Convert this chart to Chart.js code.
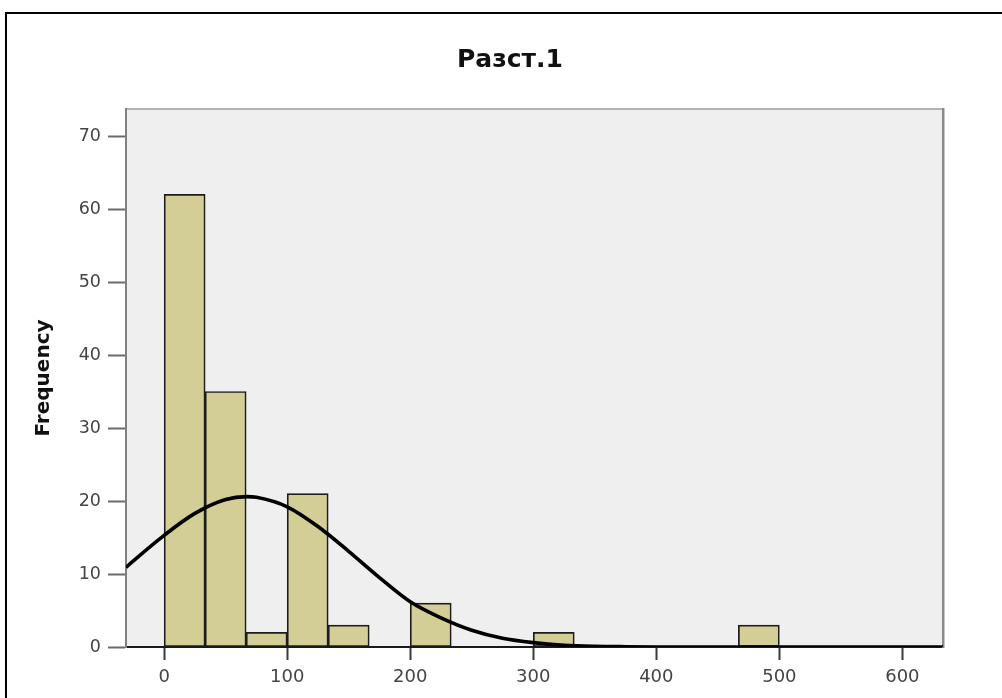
<!DOCTYPE html>
<html>
<head>
<meta charset="utf-8">
<title>Разст.1</title>
<script src="https://cdn.jsdelivr.net/npm/chart.js@4/dist/chart.umd.min.js"></script>
<style>
  html, body { margin: 0; padding: 0; background: #ffffff; overflow: hidden; }
  body { width: 1002px; height: 698px; position: relative; }
  .frame {
    position: absolute; left: 5px; top: 12px; width: 1100px; height: 800px;
    border: 2.5px solid #000;
  }
  .wrap { position: absolute; left: 0; top: 0; width: 1002px; height: 698px; }
</style>
</head>
<body>
<div class="frame"></div>
<div class="wrap"><canvas id="hist"></canvas></div>
<script>
// Histogram of "Разст.1": bins of width 100/3, with the fitted normal curve.
const binStarts   = [0, 33.33, 66.67, 100, 133.33, 200, 300, 466.67];
const binWidth    = 33.33;
const frequencies = [62, 35, 2, 21, 3, 6, 2, 3];

// Normal curve read at these x positions
const curveX = [-31, -25, 0, 25, 50, 67, 75, 100, 125, 150, 175, 200, 225, 250, 275, 300, 325, 350, 375, 400, 450, 500, 550, 600, 633];
const curveY = [10.9, 11.8, 15.3, 18.3, 20.2, 20.6, 20.5, 19.2, 16.5, 13.1, 9.5, 6.2, 4.0, 2.3, 1.2, 0.6, 0.25, 0.1, 0.04, 0.01, 0, 0, 0, 0, 0];

const xTicks = [0, 100, 200, 300, 400, 500, 600];
const yTicks = [0, 10, 20, 30, 40, 50, 60, 70];

const titleText = 'Разст.1';
const yTitleText = 'Frequency';

const barPoints = binStarts.map((s, i) => ({ x: s + binWidth / 2, y: frequencies[i] }));
const curvePoints = curveX.map((x, i) => ({ x: x, y: curveY[i] }));

// Grey plot panel with a thin frame along its top edge
const panel = {
  id: 'panel',
  beforeDraw(chart) {
    const { ctx, chartArea: a } = chart;
    ctx.save();
    ctx.fillStyle = '#efefef';
    ctx.fillRect(a.left, a.top, a.right - a.left, a.bottom - a.top);
    ctx.strokeStyle = '#9a9a9a';
    ctx.lineWidth = 1.5;
    ctx.beginPath();
    ctx.moveTo(a.left, a.top);
    ctx.lineTo(a.right, a.top);
    ctx.stroke();
    ctx.restore();
  }
};

new Chart(document.getElementById('hist'), {
  data: {
    datasets: [
      {
        type: 'line',
        data: curvePoints,
        borderColor: '#000000',
        borderWidth: 3.6,
        pointRadius: 0,
        cubicInterpolationMode: 'monotone',
        fill: false,
        order: 0
      },
      {
        type: 'bar',
        data: barPoints,
        backgroundColor: 'rgb(211,206,150)',
        borderColor: '#1c1c1c',
        borderWidth: 1.7,
        borderSkipped: false,
        barPercentage: 1,
        categoryPercentage: 1,
        grouped: false,
        order: 1
      }
    ]
  },
  options: {
    responsive: true,
    maintainAspectRatio: false,
    animation: false,
    events: [],
    layout: { padding: { left: 18, right: 0, top: 0, bottom: 0 } },
    plugins: {
      legend: { display: false },
      tooltip: { enabled: false },
      title: {
        display: true,
        text: titleText,
        color: '#111111',
        font: { family: 'DejaVu Sans', size: 25, weight: 'bold' },
        padding: { top: 45, bottom: 34 }
      }
    },
    scales: {
      x: {
        type: 'linear',
        position: 'bottom',
        offset: false,
        min: -31,
        max: 633,
        afterBuildTicks(s) { s.ticks = xTicks.map(v => ({ value: v })); },
        afterFit(s) { s.height = 51; },
        grid: {
          offset: false,
          drawOnChartArea: false,
          drawTicks: true,
          tickLength: 13,
          tickWidth: 2,
          tickColor: '#3a3a3a'
        },
        border: { display: true, color: '#1a1a1a', width: 2 },
        ticks: {
          color: '#444444',
          padding: 7,
          maxRotation: 0,
          autoSkip: false,
          font: { family: 'DejaVu Sans', size: 18 }
        }
      },
      y: {
        type: 'linear',
        position: 'left',
        min: 0,
        max: 73.7,
        afterBuildTicks(s) { s.ticks = yTicks.map(v => ({ value: v })); },
        afterFit(s) { s.width = 108; },
        grid: {
          drawOnChartArea: false,
          drawTicks: true,
          tickLength: 18,
          tickWidth: 2,
          tickColor: '#6a6a6a'
        },
        border: { display: true, color: '#808080', width: 2 },
        ticks: {
          color: '#444444',
          padding: 7,
          autoSkip: false,
          font: { family: 'DejaVu Sans', size: 17.5 }
        },
        title: {
          display: true,
          text: yTitleText,
          color: '#111111',
          font: { family: 'DejaVu Sans', size: 20, weight: 'bold' },
          padding: { top: 14, bottom: 0 }
        }
      },
      yRight: {
        type: 'linear',
        position: 'right',
        display: true,
        afterFit(s) { s.width = 59; },
        grid: { display: false, drawOnChartArea: false, drawTicks: false },
        border: { display: true, color: '#8a8a8a', width: 2.5 },
        ticks: { display: false }
      }
    }
  },
  plugins: [panel]
});
</script>
</body>
</html>
